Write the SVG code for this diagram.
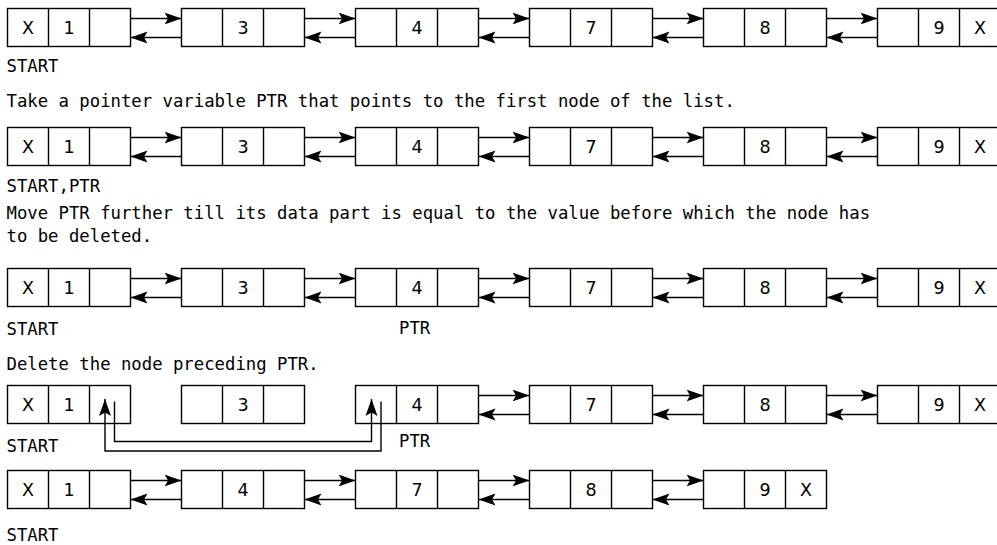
<svg xmlns="http://www.w3.org/2000/svg" width="997" height="545" viewBox="0 0 997 545">
<style>
.box{fill:#fff;stroke:#000;stroke-width:1.4}
.sep{stroke:#000;stroke-width:1.4}
.cell{font-family:"DejaVu Sans",sans-serif;font-size:17.5px;text-anchor:middle;fill:#000}
.txt{font-family:"DejaVu Sans Mono",monospace;font-size:17.3px;fill:#000}
.con{fill:none;stroke:#000;stroke-width:1.4}
</style>
<defs>
<marker id="arr" markerUnits="userSpaceOnUse" markerWidth="18" markerHeight="14" viewBox="0 0 18 14" refX="17" refY="7" orient="auto">
<path d="M17,7 L0,1 L3.5,7 L0,13 Z" fill="#000"/>
</marker>
<g id="node">
<rect class="box" x="0" y="0" width="123" height="38"/>
<line class="sep" x1="41" y1="0" x2="41" y2="38"/>
<line class="sep" x1="82" y1="0" x2="82" y2="38"/>
</g>
</defs>

<!-- Row 1 -->
<g id="r1n1" transform="translate(7.5,8.5)"><use href="#node"/><text class="cell" x="20.5" y="25.5">X</text><text class="cell" x="61.5" y="25.5">1</text></g>
<g id="r1n2" transform="translate(181.5,8.5)"><use href="#node"/><text class="cell" x="61.5" y="25.5">3</text></g>
<g id="r1n3" transform="translate(355.5,8.5)"><use href="#node"/><text class="cell" x="61.5" y="25.5">4</text></g>
<g id="r1n4" transform="translate(529.5,8.5)"><use href="#node"/><text class="cell" x="61.5" y="25.5">7</text></g>
<g id="r1n5" transform="translate(703.5,8.5)"><use href="#node"/><text class="cell" x="61.5" y="25.5">8</text></g>
<g id="r1n6" transform="translate(877.5,8.5)"><use href="#node"/><text class="cell" x="61.5" y="25.5">9</text><text class="cell" x="102.5" y="25.5">X</text></g>

<!-- Row 2 -->
<g id="r2n1" transform="translate(7.5,127.5)"><use href="#node"/><text class="cell" x="20.5" y="25.5">X</text><text class="cell" x="61.5" y="25.5">1</text></g>
<g id="r2n2" transform="translate(181.5,127.5)"><use href="#node"/><text class="cell" x="61.5" y="25.5">3</text></g>
<g id="r2n3" transform="translate(355.5,127.5)"><use href="#node"/><text class="cell" x="61.5" y="25.5">4</text></g>
<g id="r2n4" transform="translate(529.5,127.5)"><use href="#node"/><text class="cell" x="61.5" y="25.5">7</text></g>
<g id="r2n5" transform="translate(703.5,127.5)"><use href="#node"/><text class="cell" x="61.5" y="25.5">8</text></g>
<g id="r2n6" transform="translate(877.5,127.5)"><use href="#node"/><text class="cell" x="61.5" y="25.5">9</text><text class="cell" x="102.5" y="25.5">X</text></g>

<!-- Row 3 -->
<g id="r3n1" transform="translate(7.5,268.5)"><use href="#node"/><text class="cell" x="20.5" y="25.5">X</text><text class="cell" x="61.5" y="25.5">1</text></g>
<g id="r3n2" transform="translate(181.5,268.5)"><use href="#node"/><text class="cell" x="61.5" y="25.5">3</text></g>
<g id="r3n3" transform="translate(355.5,268.5)"><use href="#node"/><text class="cell" x="61.5" y="25.5">4</text></g>
<g id="r3n4" transform="translate(529.5,268.5)"><use href="#node"/><text class="cell" x="61.5" y="25.5">7</text></g>
<g id="r3n5" transform="translate(703.5,268.5)"><use href="#node"/><text class="cell" x="61.5" y="25.5">8</text></g>
<g id="r3n6" transform="translate(877.5,268.5)"><use href="#node"/><text class="cell" x="61.5" y="25.5">9</text><text class="cell" x="102.5" y="25.5">X</text></g>

<!-- Row 4 -->
<g id="r4n1" transform="translate(7.5,385.5)"><use href="#node"/><text class="cell" x="20.5" y="25.5">X</text><text class="cell" x="61.5" y="25.5">1</text></g>
<g id="r4n2" transform="translate(181.5,385.5)"><use href="#node"/><text class="cell" x="61.5" y="25.5">3</text></g>
<g id="r4n3" transform="translate(355.5,385.5)"><use href="#node"/><text class="cell" x="61.5" y="25.5">4</text></g>
<g id="r4n4" transform="translate(529.5,385.5)"><use href="#node"/><text class="cell" x="61.5" y="25.5">7</text></g>
<g id="r4n5" transform="translate(703.5,385.5)"><use href="#node"/><text class="cell" x="61.5" y="25.5">8</text></g>
<g id="r4n6" transform="translate(877.5,385.5)"><use href="#node"/><text class="cell" x="61.5" y="25.5">9</text><text class="cell" x="102.5" y="25.5">X</text></g>

<!-- Row 5 -->
<g id="r5n1" transform="translate(7.5,470.5)"><use href="#node"/><text class="cell" x="20.5" y="25.5">X</text><text class="cell" x="61.5" y="25.5">1</text></g>
<g id="r5n2" transform="translate(181.5,470.5)"><use href="#node"/><text class="cell" x="61.5" y="25.5">4</text></g>
<g id="r5n3" transform="translate(355.5,470.5)"><use href="#node"/><text class="cell" x="61.5" y="25.5">7</text></g>
<g id="r5n4" transform="translate(529.5,470.5)"><use href="#node"/><text class="cell" x="61.5" y="25.5">8</text></g>
<g id="r5n5" transform="translate(703.5,470.5)"><use href="#node"/><text class="cell" x="61.5" y="25.5">9</text><text class="cell" x="102.5" y="25.5">X</text></g>

<g id="connectors" class="con" marker-end="url(#arr)">
<!-- Row 1 -->
<line x1="130.5" y1="18.5" x2="181.5" y2="18.5"/><line x1="181.5" y1="37.5" x2="130.5" y2="37.5"/>
<line x1="304.5" y1="18.5" x2="355.5" y2="18.5"/><line x1="355.5" y1="37.5" x2="304.5" y2="37.5"/>
<line x1="478.5" y1="18.5" x2="529.5" y2="18.5"/><line x1="529.5" y1="37.5" x2="478.5" y2="37.5"/>
<line x1="652.5" y1="18.5" x2="703.5" y2="18.5"/><line x1="703.5" y1="37.5" x2="652.5" y2="37.5"/>
<line x1="826.5" y1="18.5" x2="877.5" y2="18.5"/><line x1="877.5" y1="37.5" x2="826.5" y2="37.5"/>
<!-- Row 2 -->
<line x1="130.5" y1="137.5" x2="181.5" y2="137.5"/><line x1="181.5" y1="156.5" x2="130.5" y2="156.5"/>
<line x1="304.5" y1="137.5" x2="355.5" y2="137.5"/><line x1="355.5" y1="156.5" x2="304.5" y2="156.5"/>
<line x1="478.5" y1="137.5" x2="529.5" y2="137.5"/><line x1="529.5" y1="156.5" x2="478.5" y2="156.5"/>
<line x1="652.5" y1="137.5" x2="703.5" y2="137.5"/><line x1="703.5" y1="156.5" x2="652.5" y2="156.5"/>
<line x1="826.5" y1="137.5" x2="877.5" y2="137.5"/><line x1="877.5" y1="156.5" x2="826.5" y2="156.5"/>
<!-- Row 3 -->
<line x1="130.5" y1="278.5" x2="181.5" y2="278.5"/><line x1="181.5" y1="297.5" x2="130.5" y2="297.5"/>
<line x1="304.5" y1="278.5" x2="355.5" y2="278.5"/><line x1="355.5" y1="297.5" x2="304.5" y2="297.5"/>
<line x1="478.5" y1="278.5" x2="529.5" y2="278.5"/><line x1="529.5" y1="297.5" x2="478.5" y2="297.5"/>
<line x1="652.5" y1="278.5" x2="703.5" y2="278.5"/><line x1="703.5" y1="297.5" x2="652.5" y2="297.5"/>
<line x1="826.5" y1="278.5" x2="877.5" y2="278.5"/><line x1="877.5" y1="297.5" x2="826.5" y2="297.5"/>
<!-- Row 4 -->
<line x1="478.5" y1="395.5" x2="529.5" y2="395.5"/><line x1="529.5" y1="414.5" x2="478.5" y2="414.5"/>
<line x1="652.5" y1="395.5" x2="703.5" y2="395.5"/><line x1="703.5" y1="414.5" x2="652.5" y2="414.5"/>
<line x1="826.5" y1="395.5" x2="877.5" y2="395.5"/><line x1="877.5" y1="414.5" x2="826.5" y2="414.5"/>
<path d="M114.5,401.5 V441.5 H371.5 V399"/>
<path d="M381,401.5 V451 H105 V399"/>
<!-- Row 5 -->
<line x1="130.5" y1="480.5" x2="181.5" y2="480.5"/><line x1="181.5" y1="499.5" x2="130.5" y2="499.5"/>
<line x1="304.5" y1="480.5" x2="355.5" y2="480.5"/><line x1="355.5" y1="499.5" x2="304.5" y2="499.5"/>
<line x1="478.5" y1="480.5" x2="529.5" y2="480.5"/><line x1="529.5" y1="499.5" x2="478.5" y2="499.5"/>
<line x1="652.5" y1="480.5" x2="703.5" y2="480.5"/><line x1="703.5" y1="499.5" x2="652.5" y2="499.5"/>
</g>

<g id="labels" class="txt">
<text x="6.5" y="72">START</text>
<text x="6.5" y="106.5">Take a pointer variable PTR that points to the first node of the list.</text>
<text x="6.5" y="191.5">START,PTR</text>
<text x="6.5" y="218.5">Move PTR further till its data part is equal to the value before which the node has</text>
<text x="6.5" y="242">to be deleted.</text>
<text x="6.5" y="334.5">START</text>
<text x="399" y="334">PTR</text>
<text x="6.5" y="369.5">Delete the node preceding PTR.</text>
<text x="6.5" y="451.5">START</text>
<text x="399" y="446.5">PTR</text>
<text x="6.5" y="541">START</text>
</g>
</svg>
